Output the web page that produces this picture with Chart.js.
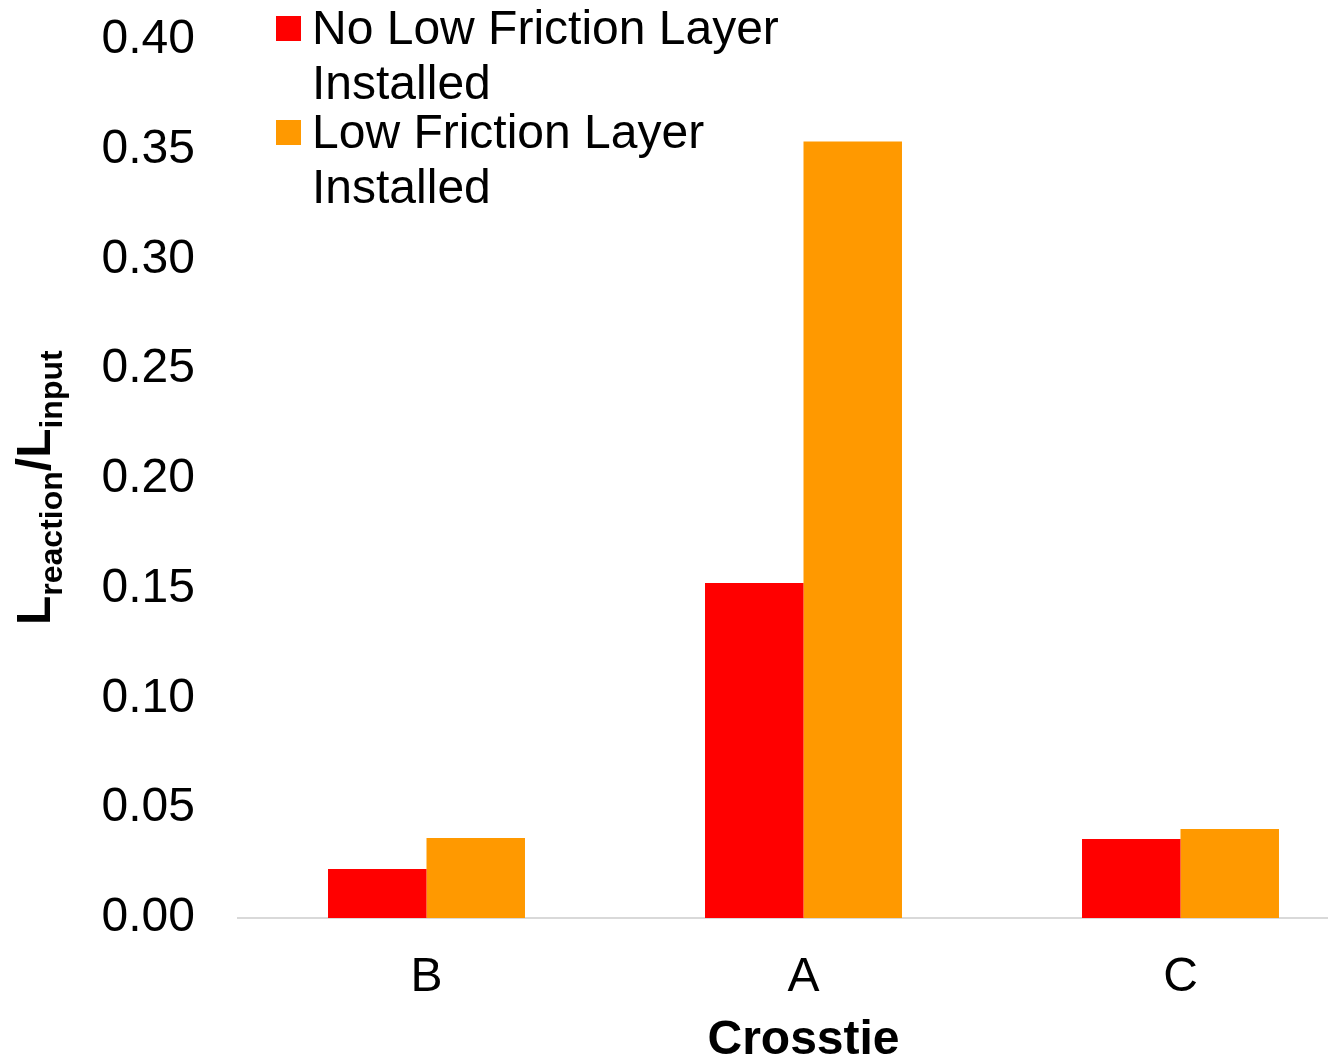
<!DOCTYPE html>
<html>
<head>
<meta charset="utf-8">
<script src="https://cdn.jsdelivr.net/npm/chart.js@4"></script>
<style>
  html, body { margin: 0; padding: 0; background: #fff; overflow: hidden; }
  #wrap { width: 1369px; height: 1058px; }
</style>
</head>
<body>
<div id="wrap"><canvas id="myChart" width="1369" height="1058"></canvas></div>
<script>
const crossties = ['B', 'A', 'C'];
const noLayer = [0.0223, 0.1526, 0.0360];
const withLayer = [0.0364, 0.3538, 0.0405];
const seriesNames = ['No Low Friction Layer Installed', 'Low Friction Layer Installed'];
const legendLines = [['No Low Friction Layer', 'Installed'], ['Low Friction Layer', 'Installed']];
const yTicks = [0, 0.05, 0.10, 0.15, 0.20, 0.25, 0.30, 0.35, 0.40];

const FONT = "'Liberation Sans', Arial, sans-serif";

// legend with wrapped labels, drawn above the bars
const wrappedLegend = {
    id: 'wrappedLegend',
    afterDraw(chart) {
        const ctx = chart.ctx;
        const baselines = [[44, 99], [148, 203]];
        ctx.save();
        ctx.font = '48px ' + FONT;
        ctx.textBaseline = 'alphabetic';
        ctx.textAlign = 'left';
        chart.data.datasets.forEach((ds, i) => {
            ctx.fillStyle = ds.backgroundColor;
            ctx.fillRect(276, baselines[i][0] - 28, 25, 25);
            ctx.fillStyle = '#000';
            legendLines[i].forEach((line, j) => {
                ctx.fillText(line, 312, baselines[i][j]);
            });
        });
        ctx.restore();
    }
};

// axis titles; the y title needs subscripts
const axisTitles = {
    id: 'axisTitles',
    afterDraw(chart) {
        const ctx = chart.ctx;
        ctx.save();
        ctx.fillStyle = '#000';
        ctx.font = 'bold 48px ' + FONT;
        ctx.textAlign = 'center';
        ctx.textBaseline = 'alphabetic';
        const area = chart.chartArea;
        ctx.fillText('Crosstie', (area.left + area.right) / 2, 1054);

        ctx.translate(50, 625);
        ctx.rotate(-Math.PI / 2);
        ctx.textAlign = 'left';
        const parts = [
            ['L', 48, 0], ['reaction', 32, 12], ['/L', 48, 0], ['input', 32, 12]
        ];
        let x = 0;
        parts.forEach(([txt, size, shift]) => {
            ctx.font = 'bold ' + size + 'px ' + FONT;
            ctx.fillText(txt, x, shift);
            x += ctx.measureText(txt).width;
        });
        ctx.restore();
    }
};

const ctx = document.getElementById('myChart');
const myChart = new Chart(ctx, {
    type: 'bar',
    data: {
        labels: crossties,
        datasets: [{
            label: seriesNames[0],
            data: noLayer,
            backgroundColor: '#ff0000',
            barPercentage: 1,
            categoryPercentage: 0.5225
        }, {
            label: seriesNames[1],
            data: withLayer,
            backgroundColor: '#ff9900',
            barPercentage: 1,
            categoryPercentage: 0.5225
        }]
    },
    options: {
        responsive: false,
        animation: false,
        devicePixelRatio: 1,
        layout: { padding: { top: 40, left: 0, right: 0, bottom: 0 } },
        plugins: {
            legend: { display: false },
            tooltip: { enabled: false }
        },
        scales: {
            x: {
                grid: { display: false, drawTicks: false },
                border: { display: true, color: '#d9d9d9', width: 2 },
                ticks: {
                    color: '#000',
                    padding: 31,
                    font: { family: FONT, size: 48 }
                },
                afterFit(scale) { scale.height = 140; }
            },
            y: {
                min: 0,
                max: 0.40,
                grid: { display: false, drawTicks: false },
                border: { display: false },
                afterBuildTicks(scale) {
                    scale.ticks = yTicks.map(v => ({ value: v }));
                },
                ticks: {
                    color: '#000',
                    padding: 43,
                    font: { family: FONT, size: 48 },
                    callback: v => v.toFixed(2)
                },
                afterFit(scale) {
                    scale.width = 238;
                    scale.paddingTop = 0;
                    scale.paddingBottom = 0;
                }
            }
        }
    },
    plugins: [wrappedLegend, axisTitles]
});
</script>
</body>
</html>
